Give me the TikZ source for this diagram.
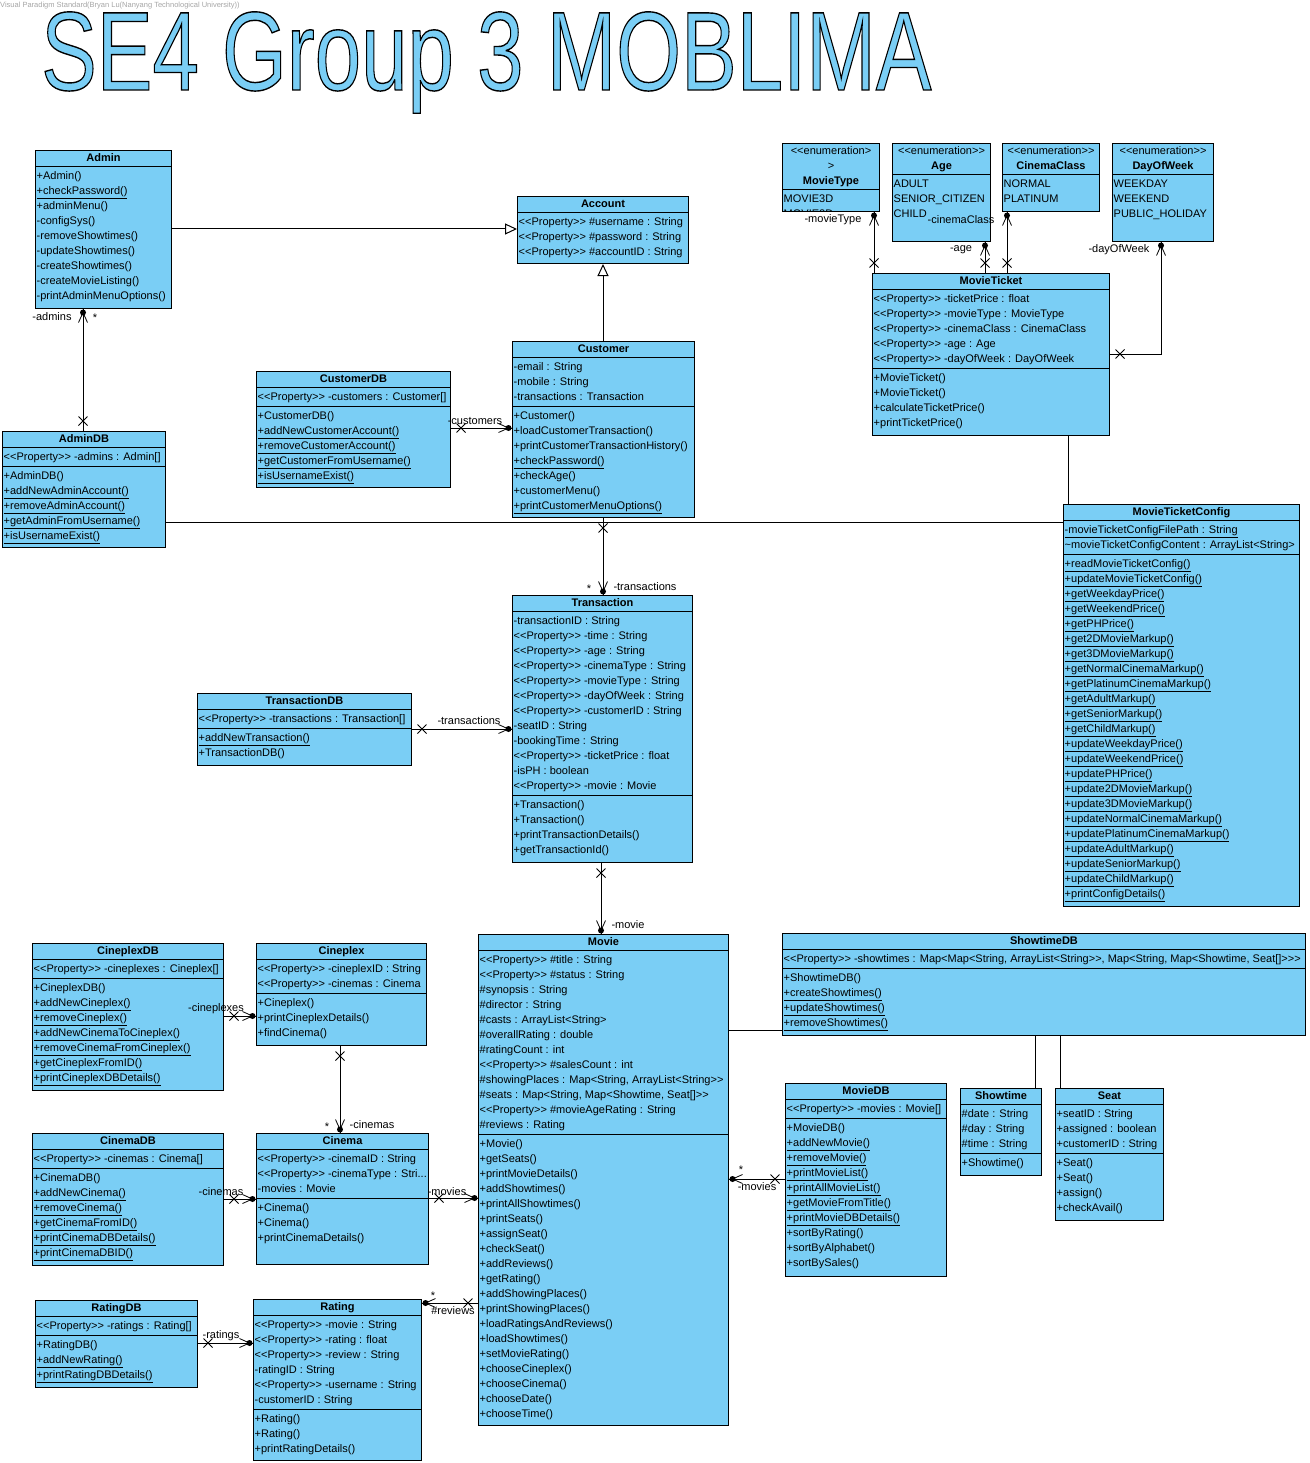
\documentclass[tikz,border=0pt]{standalone}
\usepackage{fontspec}
\usepackage{graphicx}
\usepackage{tikz}
\usetikzlibrary{arrows.meta,decorations.markings,calc}

\newfontfamily\umlfont{Liberation Sans}
\newcommand{\umlsize}{\fontsize{11}{15}\selectfont}
\newcommand{\stat}[1]{\underline{#1}}
\newcommand{\outlined}[1]{\special{pdf:literal direct 0 0 0 RG 1.4 w 2 Tr}#1\special{pdf:literal direct 0 Tr}}
\definecolor{umlblue}{RGB}{122,206,245}

% class box: name, left, top, width, height, title, attributes, operations
\newcommand{\umlclass}[8]{%
  \node[classbox, minimum width=#4, minimum height=#5] (#1) at (#2,#3) {};
  \begin{scope}
    \clip (#1.south west) rectangle (#1.north east);
    \node[classname] (#1-n) at (#1.north) {\strut#6\strut};
    \draw[sepline] (#1.west |- #1-n.south) -- (#1.east |- #1-n.south);
    \node[classtext] (#1-a) at (#1.west |- #1-n.south) {\strut#7\strut};
    \if\relax\detokenize{#8}\relax\else
      \draw[sepline] (#1.west |- #1-a.south) -- (#1.east |- #1-a.south);
      \node[classtext] (#1-o) at (#1.west |- #1-a.south) {\strut#8\strut};
    \fi
  \end{scope}
}

\tikzset{
  classbox/.style={draw, fill=umlblue, line width=1pt, anchor=north west, inner sep=0pt},
  classname/.style={anchor=north, font=\umlfont\bfseries\umlsize, align=center, inner xsep=2pt, inner ysep=0.5pt},
  classtext/.style={anchor=north west, font=\umlfont\umlsize, align=left, inner xsep=1.5pt, inner ysep=2pt},
  sepline/.style={line width=1pt},
  plain/.style={line width=1pt},
  gen/.style={line width=1pt, -{Triangle[open, length=12pt, width=11pt]}},
  rolelabel/.style={font=\umlfont\fontsize{11}{13}\selectfont, inner sep=0pt},
  assoc/.style={line width=1pt, postaction={decorate}, decoration={markings,
    mark=at position 10pt with {\draw[line width=0.8pt] (-4.5pt,-4.5pt) -- (4.5pt,4.5pt) (-4.5pt,4.5pt) -- (4.5pt,-4.5pt);},
    mark=at position 1 with {\fill (-3.5pt,0pt) circle (3pt); \draw[line width=0.8pt] (-13.5pt,4.5pt) -- (-3.5pt,0pt) -- (-13.5pt,-4.5pt);}}},
}

\begin{document}
\begin{tikzpicture}[x=1pt, y=-1pt]

\useasboundingbox (0,0) rectangle (1309,1463);
\fill[white] (0,0) rectangle (1309,1463);

\node[anchor=west, text=gray!70, font=\umlfont\fontsize{7.5}{9}\selectfont, inner sep=0pt] (vpmark) at (0,6) {Visual Paradigm Standard(Bryan Lu(Nanyang Technological University))};
\node[anchor=base west, inner sep=0pt, text=umlblue] (title) at (41,90) {\scalebox{0.745}[1]{\umlfont\fontsize{112}{112}\selectfont\outlined{SE4 Group 3 MOBLIMA}}};

% accounts
\umlclass{admin}{35}{150}{136}{158}{Admin}{+Admin()\\\stat{+checkPassword()}\\+adminMenu()\\-configSys()\\-removeShowtimes()\\-updateShowtimes()\\-createShowtimes()\\-createMovieListing()\\-printAdminMenuOptions()}{}
\umlclass{account}{517}{196}{171}{67}{Account}{<<Property>> \#username : String\\<<Property>> \#password : String\\<<Property>> \#accountID : String}{}
\umlclass{customerDB}{256}{371}{194}{116}{CustomerDB}{<<Property>> -customers : Customer[]}{+CustomerDB()\\\stat{+addNewCustomerAccount()}\\\stat{+removeCustomerAccount()}\\\stat{+getCustomerFromUsername()}\\\stat{+isUsernameExist()}}
\umlclass{customer}{512}{341}{182}{176}{Customer}{-email : String\\-mobile : String\\-transactions : Transaction}{+Customer()\\+loadCustomerTransaction()\\+printCustomerTransactionHistory()\\\stat{+checkPassword()}\\+checkAge()\\+customerMenu()\\\stat{+printCustomerMenuOptions()}}
\umlclass{adminDB}{2}{431}{163}{116}{AdminDB}{<<Property>> -admins : Admin[]}{+AdminDB()\\\stat{+addNewAdminAccount()}\\\stat{+removeAdminAccount()}\\\stat{+getAdminFromUsername()}\\\stat{+isUsernameExist()}}

% tickets
\umlclass{movieType}{782}{143}{97}{68}{\textmd{<<enumeration>}\\\textmd{>}\\MovieType}{MOVIE3D\\MOVIE2D}{}
\umlclass{age}{892}{143}{98}{98}{\textmd{<<enumeration>>}\\Age}{ADULT\\SENIOR\_CITIZEN\\CHILD}{}
\umlclass{cinemaClass}{1002}{143}{97}{68}{\textmd{<<enumeration>>}\\CinemaClass}{NORMAL\\PLATINUM}{}
\umlclass{dayOfWeek}{1112}{143}{101}{98}{\textmd{<<enumeration>>}\\DayOfWeek}{WEEKDAY\\WEEKEND\\PUBLIC\_HOLIDAY}{}
\umlclass{movieTicket}{872}{273}{237}{162}{MovieTicket}{<<Property>> -ticketPrice : float\\<<Property>> -movieType : MovieType\\<<Property>> -cinemaClass : CinemaClass\\<<Property>> -age : Age\\<<Property>> -dayOfWeek : DayOfWeek}{+MovieTicket()\\+MovieTicket()\\+calculateTicketPrice()\\+printTicketPrice()}
\umlclass{movieTicketConfig}{1063}{504}{236}{402}{MovieTicketConfig}{\stat{-movieTicketConfigFilePath : String}\\\textasciitilde movieTicketConfigContent : ArrayList<String>}{\stat{+readMovieTicketConfig()}\\\stat{+updateMovieTicketConfig()}\\\stat{+getWeekdayPrice()}\\\stat{+getWeekendPrice()}\\\stat{+getPHPrice()}\\\stat{+get2DMovieMarkup()}\\\stat{+get3DMovieMarkup()}\\\stat{+getNormalCinemaMarkup()}\\\stat{+getPlatinumCinemaMarkup()}\\\stat{+getAdultMarkup()}\\\stat{+getSeniorMarkup()}\\\stat{+getChildMarkup()}\\\stat{+updateWeekdayPrice()}\\\stat{+updateWeekendPrice()}\\\stat{+updatePHPrice()}\\\stat{+update2DMovieMarkup()}\\\stat{+update3DMovieMarkup()}\\\stat{+updateNormalCinemaMarkup()}\\\stat{+updatePlatinumCinemaMarkup()}\\\stat{+updateAdultMarkup()}\\\stat{+updateSeniorMarkup()}\\\stat{+updateChildMarkup()}\\\stat{+printConfigDetails()}}

% transactions
\umlclass{transaction}{512}{595}{180}{267}{Transaction}{-transactionID : String\\<<Property>> -time : String\\<<Property>> -age : String\\<<Property>> -cinemaType : String\\<<Property>> -movieType : String\\<<Property>> -dayOfWeek : String\\<<Property>> -customerID : String\\-seatID : String\\-bookingTime : String\\<<Property>> -ticketPrice : float\\-isPH : boolean\\<<Property>> -movie : Movie}{+Transaction()\\+Transaction()\\+printTransactionDetails()\\+getTransactionId()}
\umlclass{transactionDB}{197}{693}{214}{72}{TransactionDB}{<<Property>> -transactions : Transaction[]}{\stat{+addNewTransaction()}\\+TransactionDB()}

% movies
\umlclass{movie}{478}{934}{250}{491}{Movie}{<<Property>> \#title : String\\<<Property>> \#status : String\\\#synopsis : String\\\#director : String\\\#casts : ArrayList<String>\\\#overallRating : double\\\#ratingCount : int\\<<Property>> \#salesCount : int\\\#showingPlaces : Map<String, ArrayList<String>>\\\#seats : Map<String, Map<Showtime, Seat[]>>\\<<Property>> \#movieAgeRating : String\\\#reviews : Rating}{+Movie()\\+getSeats()\\+printMovieDetails()\\+addShowtimes()\\+printAllShowtimes()\\+printSeats()\\+assignSeat()\\+checkSeat()\\+addReviews()\\+getRating()\\+addShowingPlaces()\\+printShowingPlaces()\\+loadRatingsAndReviews()\\+loadShowtimes()\\+setMovieRating()\\+chooseCineplex()\\+chooseCinema()\\+chooseDate()\\+chooseTime()}
\umlclass{showtimeDB}{782}{933}{523}{102}{ShowtimeDB}{<<Property>> -showtimes : Map<Map<String, ArrayList<String>>, Map<String, Map<Showtime, Seat[]>>>}{+ShowtimeDB()\\\stat{+createShowtimes()}\\\stat{+updateShowtimes()}\\\stat{+removeShowtimes()}}
\umlclass{movieDB}{785}{1083}{161}{193}{MovieDB}{<<Property>> -movies : Movie[]}{+MovieDB()\\\stat{+addNewMovie()}\\\stat{+removeMovie()}\\\stat{+printMovieList()}\\\stat{+printAllMovieList()}\\\stat{+getMovieFromTitle()}\\\stat{+printMovieDBDetails()}\\+sortByRating()\\+sortByAlphabet()\\+sortBySales()}
\umlclass{showtime}{960}{1088}{81}{87}{Showtime}{\#date : String\\\#day : String\\\#time : String}{+Showtime()}
\umlclass{seat}{1055}{1088}{108}{132}{Seat}{+seatID : String\\+assigned : boolean\\+customerID : String}{+Seat()\\+Seat()\\+assign()\\+checkAvail()}

% cineplexes, cinemas, ratings
\umlclass{cineplexDB}{32}{943}{191}{147}{CineplexDB}{<<Property>> -cineplexes : Cineplex[]}{+CineplexDB()\\\stat{+addNewCineplex()}\\\stat{+removeCineplex()}\\\stat{+addNewCinemaToCineplex()}\\\stat{+removeCinemaFromCineplex()}\\\stat{+getCineplexFromID()}\\\stat{+printCineplexDBDetails()}}
\umlclass{cineplex}{256}{943}{170}{102}{Cineplex}{<<Property>> -cineplexID : String\\<<Property>> -cinemas : Cinema}{+Cineplex()\\+printCineplexDetails()\\+findCinema()}
\umlclass{cinemaDB}{32}{1133}{191}{132}{CinemaDB}{<<Property>> -cinemas : Cinema[]}{+CinemaDB()\\\stat{+addNewCinema()}\\\stat{+removeCinema()}\\\stat{+getCinemaFromID()}\\\stat{+printCinemaDBDetails()}\\\stat{+printCinemaDBID()}}
\umlclass{cinema}{256}{1133}{172}{131}{Cinema}{<<Property>> -cinemaID : String\\<<Property>> -cinemaType : Stri...\\-movies : Movie}{+Cinema()\\+Cinema()\\+printCinemaDetails()}
\umlclass{ratingDB}{35}{1300}{162}{87}{RatingDB}{<<Property>> -ratings : Rating[]}{+RatingDB()\\\stat{+addNewRating()}\\\stat{+printRatingDBDetails()}}
\umlclass{rating}{253}{1299}{168}{161}{Rating}{<<Property>> -movie : String\\<<Property>> -rating : float\\<<Property>> -review : String\\-ratingID : String\\<<Property>> -username : String\\-customerID : String}{+Rating()\\+Rating()\\+printRatingDetails()}

% generalizations
\draw[gen] (admin.east |- 0,229) -- (account.west |- 0,229);
\draw[gen] (603,0 |- customer.north) -- (603,0 |- account.south);

% plain links
\draw[plain] (adminDB.east |- 0,522) -- (movieTicketConfig.west |- 0,522);
\draw[plain] (1068,0 |- movieTicket.south) -- (1068,0 |- movieTicketConfig.north);
\draw[plain] (movie.east |- 0,1030) -- (showtimeDB.west |- 0,1030);
\draw[plain] (1035,0 |- showtimeDB.south) -- (1035,0 |- showtime.north);
\draw[plain] (1060,0 |- showtimeDB.south) -- (1060,0 |- seat.north);

% associations
\draw[assoc] (83,0 |- adminDB.north) -- (83,0 |- admin.south);
\draw[assoc] (customerDB.east |- 0,428) -- (customer.west |- 0,428);
\draw[assoc] (603,0 |- customer.south) -- (603,0 |- transaction.north);
\draw[assoc] (transactionDB.east |- 0,729) -- (transaction.west |- 0,729);
\draw[assoc] (601,0 |- transaction.south) -- (601,0 |- movie.north);
\draw[assoc] (cineplexDB.east |- 0,1016) -- (cineplex.west |- 0,1016);
\draw[assoc] (340,0 |- cineplex.south) -- (340,0 |- cinema.north);
\draw[assoc] (cinemaDB.east |- 0,1199) -- (cinema.west |- 0,1199);
\draw[assoc] (cinema.east |- 0,1198) -- (movie.west |- 0,1198);
\draw[assoc] (ratingDB.east |- 0,1343) -- (rating.west |- 0,1343);
\draw[assoc] (movie.west |- 0,1303) -- (rating.east |- 0,1303);
\draw[assoc] (movieDB.west |- 0,1179) -- (movie.east |- 0,1179);
\draw[assoc] (874,0 |- movieTicket.north) -- (874,0 |- movieType.south);
\draw[assoc] (985,0 |- movieTicket.north) -- (985,0 |- age.south);
\draw[assoc] (1007,0 |- movieTicket.north) -- (1007,0 |- cinemaClass.south);
\draw[assoc] (movieTicket.east |- 0,354) -| (1161,0 |- dayOfWeek.south);

% role labels
\node[rolelabel] (lAdmins) at (52,317) {-admins};
\node[rolelabel] (lAdminsM) at (95,318) {*};
\node[rolelabel] (lCustomers) at (475,421) {-customers};
\node[rolelabel] (lTransM) at (589,589) {*};
\node[rolelabel] (lTrans) at (645,587) {-transactions};
\node[rolelabel] (lTransDB) at (469,721) {-transactions};
\node[rolelabel] (lMovie) at (628,925) {-movie};
\node[rolelabel] (lCineplexes) at (216,1009) {-cineplexes};
\node[rolelabel] (lCinemasM) at (327,1127) {*};
\node[rolelabel] (lCinemas) at (372,1125) {-cinemas};
\node[rolelabel] (lCinemasDB) at (221,1192) {-cinemas};
\node[rolelabel] (lMovies) at (447,1192) {-movies};
\node[rolelabel] (lRatings) at (221,1336) {-ratings};
\node[rolelabel] (lReviewsM) at (433,1296) {*};
\node[rolelabel] (lReviews) at (453,1311) {\#reviews};
\node[rolelabel] (lMoviesDBM) at (741,1170) {*};
\node[rolelabel] (lMoviesDB) at (757,1187) {-movies};
\node[rolelabel] (lMovieType) at (833,220) {-movieType};
\node[rolelabel] (lCinemaClass) at (961,220) {-cinemaClass};
\node[rolelabel] (lAge) at (961,250) {-age};
\node[rolelabel] (lDayOfWeek) at (1119,250) {-dayOfWeek};

\end{tikzpicture}
\end{document}
